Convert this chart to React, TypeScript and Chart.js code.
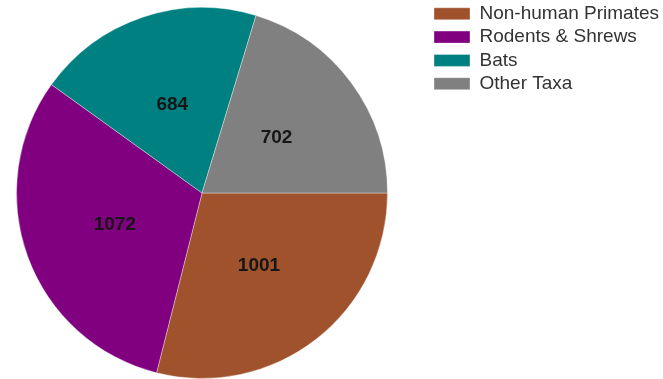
import React, { useEffect, useRef } from "react";
import { Chart, registerables } from "chart.js";

Chart.register(...registerables);

const categories = ["Non-human Primates", "Rodents & Shrews", "Bats", "Other Taxa"];
const values = [1001, 1072, 684, 702];
const colors = ["#A0522D", "#800080", "#008080", "#808080"];

const sliceLabels = {
  id: "sliceLabels",
  afterDatasetsDraw(chart: any) {
    const ctx = chart.ctx;
    const meta = chart.getDatasetMeta(0);
    ctx.save();
    ctx.font = "bold 19px 'Liberation Sans', Arial, sans-serif";
    ctx.fillStyle = "#161616";
    ctx.textAlign = "center";
    ctx.textBaseline = "middle";
    meta.data.forEach((arc: any, i: number) => {
      const p = arc.getCenterPoint();
      ctx.fillText(String(chart.data.datasets[0].data[i]), p.x, p.y);
    });
    ctx.restore();
  },
};

const legendShift = {
  id: "legendShift",
  afterLayout(chart: any) {
    const lg = chart.legend;
    if (!lg) return;
    const dx = 41.7;
    const dy = -7;
    lg.left += dx;
    lg.right = chart.width;
    lg.width = lg.right - lg.left;
    lg.top += dy;
    lg.bottom += dy;
  },
};

export default function App() {
  const ref = useRef<HTMLCanvasElement>(null);
  useEffect(() => {
    if (!ref.current) return;
    const chart = new Chart(ref.current, {
      type: "pie",
      data: {
        labels: categories,
        datasets: [
          {
            data: values,
            backgroundColor: colors,
            borderColor: "rgba(255,255,255,0.35)",
            borderWidth: 1,
          },
        ],
      },
      options: {
        responsive: false,
        animation: false,
        rotation: 90,
        layout: { padding: { top: 7, bottom: 0, left: 16, right: 75 } },
        plugins: {
          tooltip: { enabled: false },
          legend: {
            position: "right",
            align: "start",
            maxWidth: 200,
            labels: {
              boxWidth: 36,
              boxHeight: 12,
              padding: 4.3,
              color: "#333333",
              font: { family: "'Liberation Sans', Arial, sans-serif", size: 19 },
            },
          },
        },
      },
      plugins: [sliceLabels, legendShift],
    });
    return () => chart.destroy();
  }, []);
  return (
    <div style={{ position: "fixed", left: 0, top: 0, width: 663, height: 379, background: "#fff" }}>
      <canvas ref={ref} width={663} height={379} />
    </div>
  );
}
